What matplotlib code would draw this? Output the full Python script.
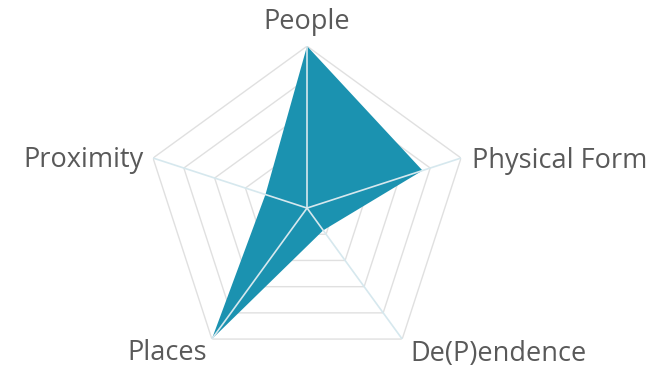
import numpy as np
import matplotlib.pyplot as plt

# axis labels, clockwise from the top
categories = ["People", "Physical Form", "De(P)endence", "Places", "Proximity"]
values = [5.0, 3.75, 0.85, 5.0, 1.35]
ring_levels = [1, 2, 3, 4, 5]

FILL = "#1b92b0"
GRID = "#e0e0e0"
TEXT = "#595959"

plt.rcParams["font.family"] = ["Open Sans", "DejaVu Sans"]

fig = plt.figure(figsize=(6.64, 3.68), dpi=100)
ax = fig.add_axes([0.2184, -0.0054, 0.488, 0.880], projection="polar")
ax.set_theta_offset(np.pi / 2)
ax.set_theta_direction(-1)
ax.set_ylim(0, 5)
ax.set_xticks([])
ax.set_yticks([])
ax.spines["polar"].set_visible(False)
ax.grid(False)
ax.patch.set_alpha(0)

n = len(categories)
angles = np.linspace(0, 2 * np.pi, n, endpoint=False)
closed = np.append(angles, angles[0])

# pentagon rings
for lvl in ring_levels:
    ax.plot(closed, [lvl] * (n + 1), color=GRID, lw=1.0, zorder=1)

# data polygon
vals = np.append(values, values[0])
ax.fill(closed, vals, color=FILL, zorder=2, lw=0)

# spokes on top
for a in angles:
    ax.plot([a, a], [0, ring_levels[-1]], color="#d6e8ee", lw=1.2, zorder=3)

# labels
offsets = {
    "People": (0, 24, "center", "center"),
    "Physical Form": (11, -3, "left", "center"),
    "De(P)endence": (8, -15, "left", "center"),
    "Places": (-5, -14, "right", "center"),
    "Proximity": (-9, -2, "right", "center"),
}
for a, name in zip(angles, categories):
    dx, dy, ha, va = offsets[name]
    ax.annotate(name, xy=(a, ring_levels[-1]), xytext=(dx, dy),
                textcoords="offset pixels", ha=ha, va=va,
                fontsize=19.5, color=TEXT, annotation_clip=False)

fig.savefig("out.png", dpi=100)
